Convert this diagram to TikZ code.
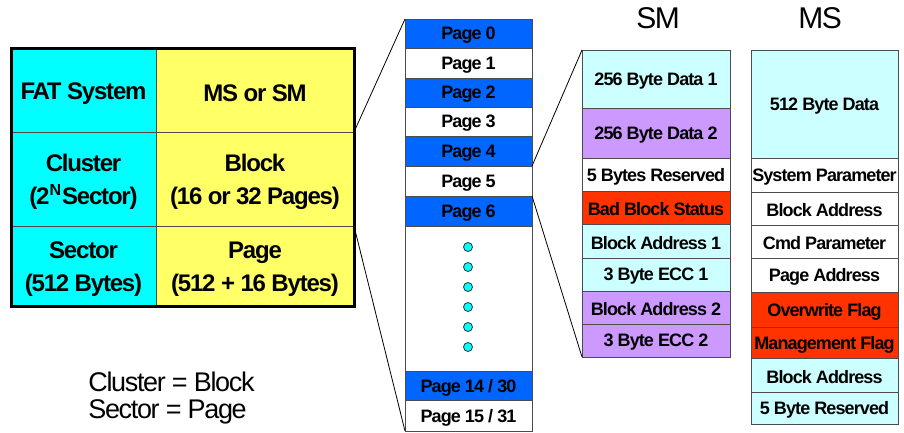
\documentclass[tikz,border=0pt]{standalone}
\usepackage{fontspec}
\setmainfont{Liberation Sans}[LetterSpace=-5]
\definecolor{pgblue}{RGB}{0,102,255}
\definecolor{lcyan}{RGB}{204,255,255}
\definecolor{lilac}{RGB}{204,153,255}
\definecolor{flagred}{RGB}{255,51,0}
\definecolor{fatcyan}{RGB}{0,255,255}
\definecolor{msyellow}{RGB}{255,255,102}

\begin{document}
\begin{tikzpicture}[x=0.5pt,y=-0.5pt,
    cell/.style={draw=black!70,inner sep=0pt,outer sep=0pt},
    tab/.style={align=center,font={\bfseries\fontsize{12}{16.5}\selectfont}},
    row/.style={font={\bfseries\fontsize{9}{10}\selectfont}},
    title/.style={font=\fontsize{15}{15}\selectfont},
    eqn/.style={anchor=base west,inner sep=0pt,font=\fontsize{13.5}{13.5}\selectfont},
    dot/.style={circle,draw=black!80,fill=fatcyan,inner sep=0pt,minimum size=4.5pt}]
    \useasboundingbox (0,0) rectangle (904,433);

    \foreach \nm/\xa/\xb/\ya/\yb/\col/\lab in {
        fat/11/156/49/132/fatcyan/{FAT System},
        mssm/156/354/49/132/msyellow/{MS or SM},
        clus/11/156/132/226/fatcyan/{Cluster\\(2\textsuperscript{N}Sector)},
        block/156/354/132/226/msyellow/{Block\\(16 or 32 Pages)},
        sect/11/156/226/306/fatcyan/{Sector\\(512 Bytes)},
        page/156/354/226/306/msyellow/{Page\\(512 + 16 Bytes)}}{
        \node[cell,fill=\col,minimum width={(\xb-\xa)*0.5pt},
            minimum height={(\yb-\ya)*0.5pt}]
            (\nm) at ({(\xa+\xb)/2},{(\ya+\yb)/2}) {};
        \node[tab] (\nm-t) at ([yshift=-1.5pt]\nm.center) {\lab};
    }
    \draw[line width=1.5pt] (fat.north west) rectangle (page.south east);

    \foreach \nm/\ya/\yb/\col/\lab in {
        p0/19/48/pgblue/{Page 0}, p1/48/78/white/{Page 1},
        p2/78/107/pgblue/{Page 2}, p3/107/136/white/{Page 3},
        p4/136/166/pgblue/{Page 4}, p5/166/196/white/{Page 5},
        p6/196/226/pgblue/{Page 6}, pgap/226/371/white/{},
        p14/371/400/pgblue/{Page 14 / 30}, p15/400/431/white/{Page 15 / 31}}{
        \node[cell,fill=\col,minimum width=63.5pt,
            minimum height={(\yb-\ya)*0.5pt}]
            (\nm) at (468.5,{(\ya+\yb)/2}) {};
        \node[row] (\nm-t) at ([yshift=-1pt]\nm.center) {\lab};
    }
    \foreach \i in {0,...,5}{
        \node[dot] (d\i) at (468,{247+20*\i}) {};
    }

    \node[title] (smtitle) at (658,18) {SM};
    \foreach \nm/\ya/\yb/\col/\lab in {
        sm1/50/108/lcyan/{256 Byte Data 1},
        sm2/108/158/lilac/{256 Byte Data 2},
        sm3/158/191/white/{5 Bytes Reserved},
        sm4/191/224/flagred/{Bad Block Status},
        sm5/224/258/lcyan/{Block Address 1},
        sm6/258/291/lcyan/{3 Byte ECC 1},
        sm7/291/324/lilac/{Block Address 2},
        sm8/324/357/lilac/{3 Byte ECC 2}}{
        \node[cell,fill=\col,minimum width=74pt,
            minimum height={(\yb-\ya)*0.5pt}]
            (\nm) at (656,{(\ya+\yb)/2}) {};
        \node[row] (\nm-t) at ([yshift=-1pt]\nm.center) {\lab};
    }

    \node[title] (mstitle) at (820,18) {MS};
    \foreach \nm/\ya/\yb/\col/\lab in {
        ms1/50/158/lcyan/{512 Byte Data},
        ms2/158/192/white/{System Parameter},
        ms3/192/225/white/{Block Address},
        ms4/225/258/white/{Cmd Parameter},
        ms5/258/292/white/{Page Address},
        ms6/292/327/flagred/{Overwrite Flag},
        ms7/327/358/flagred/{Management Flag},
        ms8/358/392/lcyan/{Block Address},
        ms9/392/424/lcyan/{5 Byte Reserved}}{
        \node[cell,fill=\col,minimum width=73.5pt,
            minimum height={(\yb-\ya)*0.5pt}]
            (\nm) at (824.5,{(\ya+\yb)/2}) {};
        \node[row] (\nm-t) at ([yshift=-1pt]\nm.center) {\lab};
    }

    \draw (block.north east) -- (p0.north west);
    \draw (block.south east) -- (p15.south west);
    \draw (p4.south east) -- (sm1.north west);
    \draw (p5.south east) -- (sm8.south west);

    \node[eqn] (eqa) at (88,391) {Cluster = Block};
    \node[eqn] (eqb) at (88,418) {Sector = Page};
\end{tikzpicture}
\end{document}
